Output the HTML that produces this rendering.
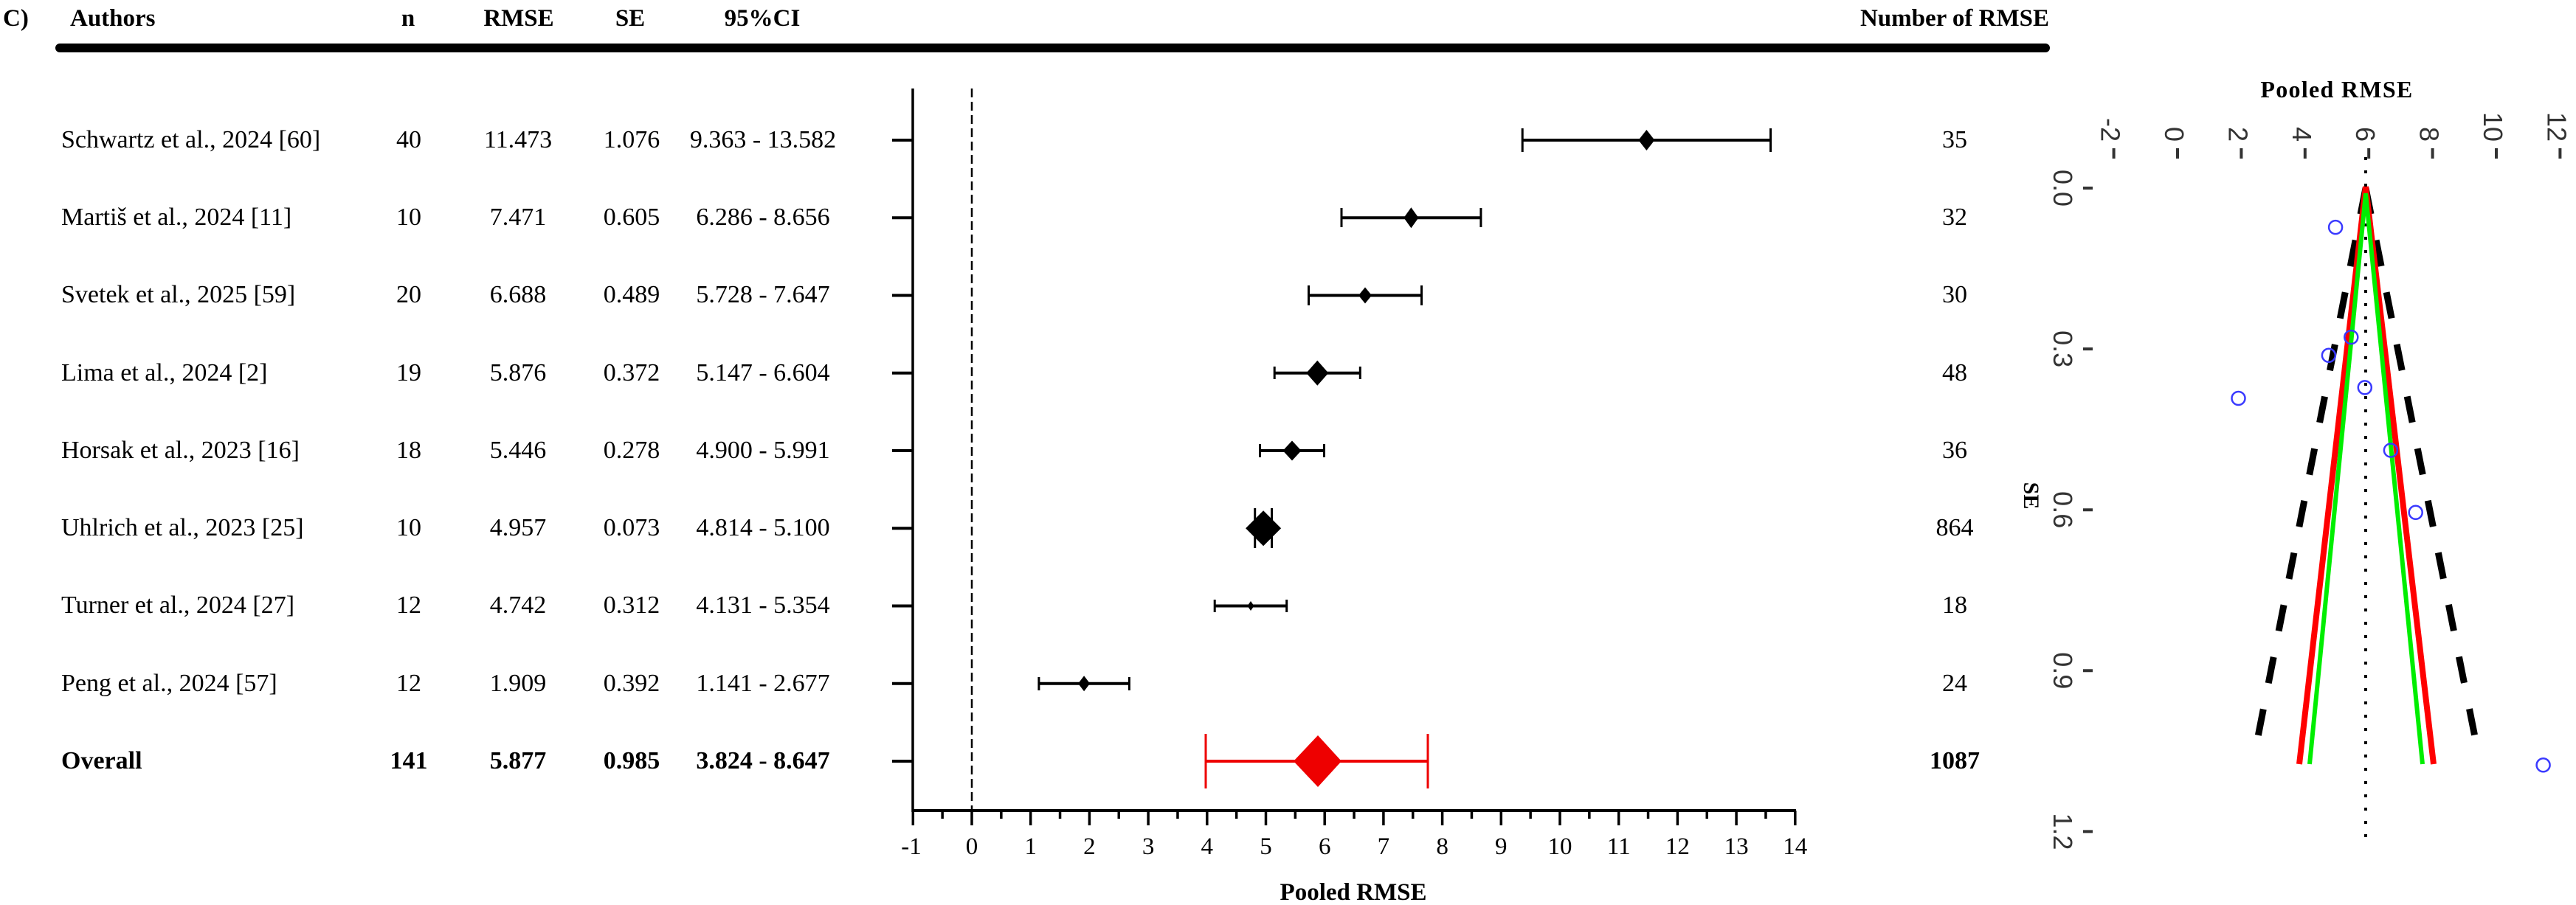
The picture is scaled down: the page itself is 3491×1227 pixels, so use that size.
<!DOCTYPE html>
<html><head><meta charset="utf-8"><style>
html,body{margin:0;padding:0;background:#fff;}
svg{display:block;}
.h{font-family:"Liberation Serif",serif;font-weight:bold;font-size:33px;fill:#000;}
.t{font-family:"Liberation Serif",serif;font-size:34px;fill:#000;}
.b{font-family:"Liberation Serif",serif;font-size:34px;font-weight:bold;fill:#000;}
.fl{font-family:"Liberation Sans",sans-serif;font-size:36px;fill:#333;}
</style></head><body>
<svg width="3491" height="1227" viewBox="0 0 3491 1227" xmlns="http://www.w3.org/2000/svg">
<rect width="3491" height="1227" fill="#fff"/>
<!-- Header -->
<text class="h" x="4" y="35">C)</text>
<text class="h" x="95" y="35">Authors</text>
<text class="h" x="553" y="35" text-anchor="middle">n</text>
<text class="h" x="703" y="35" text-anchor="middle">RMSE</text>
<text class="h" x="854" y="35" text-anchor="middle">SE</text>
<text class="h" x="1033" y="35" text-anchor="middle">95%CI</text>
<text class="h" x="2777" y="35" text-anchor="end">Number of RMSE</text>
<line x1="81" y1="65" x2="2772" y2="65" stroke="#000" stroke-width="12" stroke-linecap="round"/>

<!-- Table rows -->
<g class="t">
<text x="83" y="200">Schwartz et al., 2024 [60]</text>
<text x="554" y="200" text-anchor="middle">40</text>
<text x="702" y="200" text-anchor="middle">11.473</text>
<text x="856" y="200" text-anchor="middle">1.076</text>
<text x="1034" y="200" text-anchor="middle">9.363 - 13.582</text>
<text x="2649" y="200" text-anchor="middle">35</text>

<text x="83" y="305">Martiš et al., 2024 [11]</text>
<text x="554" y="305" text-anchor="middle">10</text>
<text x="702" y="305" text-anchor="middle">7.471</text>
<text x="856" y="305" text-anchor="middle">0.605</text>
<text x="1034" y="305" text-anchor="middle">6.286 - 8.656</text>
<text x="2649" y="305" text-anchor="middle">32</text>

<text x="83" y="410">Svetek et al., 2025 [59]</text>
<text x="554" y="410" text-anchor="middle">20</text>
<text x="702" y="410" text-anchor="middle">6.688</text>
<text x="856" y="410" text-anchor="middle">0.489</text>
<text x="1034" y="410" text-anchor="middle">5.728 - 7.647</text>
<text x="2649" y="410" text-anchor="middle">30</text>

<text x="83" y="516">Lima et al., 2024 [2]</text>
<text x="554" y="516" text-anchor="middle">19</text>
<text x="702" y="516" text-anchor="middle">5.876</text>
<text x="856" y="516" text-anchor="middle">0.372</text>
<text x="1034" y="516" text-anchor="middle">5.147 - 6.604</text>
<text x="2649" y="516" text-anchor="middle">48</text>

<text x="83" y="621">Horsak et al., 2023 [16]</text>
<text x="554" y="621" text-anchor="middle">18</text>
<text x="702" y="621" text-anchor="middle">5.446</text>
<text x="856" y="621" text-anchor="middle">0.278</text>
<text x="1034" y="621" text-anchor="middle">4.900 - 5.991</text>
<text x="2649" y="621" text-anchor="middle">36</text>

<text x="83" y="726">Uhlrich et al., 2023 [25]</text>
<text x="554" y="726" text-anchor="middle">10</text>
<text x="702" y="726" text-anchor="middle">4.957</text>
<text x="856" y="726" text-anchor="middle">0.073</text>
<text x="1034" y="726" text-anchor="middle">4.814 - 5.100</text>
<text x="2649" y="726" text-anchor="middle">864</text>

<text x="83" y="831">Turner et al., 2024 [27]</text>
<text x="554" y="831" text-anchor="middle">12</text>
<text x="702" y="831" text-anchor="middle">4.742</text>
<text x="856" y="831" text-anchor="middle">0.312</text>
<text x="1034" y="831" text-anchor="middle">4.131 - 5.354</text>
<text x="2649" y="831" text-anchor="middle">18</text>

<text x="83" y="937">Peng et al., 2024 [57]</text>
<text x="554" y="937" text-anchor="middle">12</text>
<text x="702" y="937" text-anchor="middle">1.909</text>
<text x="856" y="937" text-anchor="middle">0.392</text>
<text x="1034" y="937" text-anchor="middle">1.141 - 2.677</text>
<text x="2649" y="937" text-anchor="middle">24</text>
</g>
<g class="b">
<text x="83" y="1042">Overall</text>
<text x="554" y="1042" text-anchor="middle">141</text>
<text x="702" y="1042" text-anchor="middle">5.877</text>
<text x="856" y="1042" text-anchor="middle">0.985</text>
<text x="1034" y="1042" text-anchor="middle">3.824 - 8.647</text>
<text x="2649" y="1042" text-anchor="middle">1087</text>
</g>

<!-- Forest axes -->
<line x1="1237" y1="120" x2="1237" y2="1101" stroke="#000" stroke-width="3.5"/>
<line x1="1317" y1="120" x2="1317" y2="1099" stroke="#000" stroke-width="2.5" stroke-dasharray="12 6"/>
<path d="M1209 190H1237M1209 295.25H1237M1209 400.5H1237M1209 505.75H1237M1209 611H1237M1209 716.25H1237M1209 821.5H1237M1209 926.75H1237M1209 1032H1237" stroke="#000" stroke-width="4"/>
<line x1="1235.5" y1="1099" x2="2434" y2="1099" stroke="#000" stroke-width="4"/>
<path d="M1237.3 1099V1119M1317 1099V1119M1396.7 1099V1119M1476.4 1099V1119M1556.1 1099V1119M1635.8 1099V1119M1715.5 1099V1119M1795.2 1099V1119M1874.9 1099V1119M1954.6 1099V1119M2034.3 1099V1119M2114 1099V1119M2193.7 1099V1119M2273.4 1099V1119M2353.1 1099V1119M2432.8 1099V1119" stroke="#000" stroke-width="3.5"/>
<path d="M1277.15 1099V1110M1356.85 1099V1110M1436.55 1099V1110M1516.25 1099V1110M1595.95 1099V1110M1675.65 1099V1110M1755.35 1099V1110M1835.05 1099V1110M1914.75 1099V1110M1994.45 1099V1110M2074.15 1099V1110M2153.85 1099V1110M2233.55 1099V1110M2313.25 1099V1110M2392.95 1099V1110" stroke="#000" stroke-width="3.5"/>
<g class="t" text-anchor="middle" style="font-size:33px">
<text x="1235" y="1158">-1</text>
<text x="1317" y="1158">0</text>
<text x="1396.7" y="1158">1</text>
<text x="1476.4" y="1158">2</text>
<text x="1556.1" y="1158">3</text>
<text x="1635.8" y="1158">4</text>
<text x="1715.5" y="1158">5</text>
<text x="1795.2" y="1158">6</text>
<text x="1874.9" y="1158">7</text>
<text x="1954.6" y="1158">8</text>
<text x="2034.3" y="1158">9</text>
<text x="2114" y="1158">10</text>
<text x="2193.7" y="1158">11</text>
<text x="2273.4" y="1158">12</text>
<text x="2353.1" y="1158">13</text>
<text x="2432.8" y="1158">14</text>
</g>
<text class="h" x="1834" y="1220" text-anchor="middle">Pooled RMSE</text>

<!-- Study CIs -->
<g stroke="#000" fill="none">
<path d="M2063.2 190H2399.5" stroke-width="4"/><path d="M2063.2 174V206M2399.5 174V206" stroke-width="3"/>
<path d="M1818 295.25H2006.9" stroke-width="4"/><path d="M1818 282V308M2006.9 282V308" stroke-width="3"/>
<path d="M1773.5 400.5H1926.5" stroke-width="4"/><path d="M1773.5 387V414M1926.5 387V414" stroke-width="3"/>
<path d="M1727.2 505.75H1843.3" stroke-width="4"/><path d="M1727.2 497V514M1843.3 497V514" stroke-width="3"/>
<path d="M1707.5 611H1794.5" stroke-width="4"/><path d="M1707.5 602V620M1794.5 602V620" stroke-width="3"/>
<path d="M1700.7 716.25H1723.5" stroke-width="4"/><path d="M1700.7 689V743M1723.5 689V743" stroke-width="3"/>
<path d="M1646.2 821.5H1743.7" stroke-width="4"/><path d="M1646.2 813V830M1743.7 813V830" stroke-width="3"/>
<path d="M1407.9 926.75H1530.4" stroke-width="4"/><path d="M1407.9 918V936M1530.4 918V936" stroke-width="3"/>
</g>
<g fill="#000">
<polygon points="2231.4,176 2242.4,190 2231.4,204 2220.4,190"/>
<polygon points="1912.4,281.25 1922.4,295.25 1912.4,309.25 1902.4,295.25"/>
<polygon points="1850,389.5 1859,400.5 1850,411.5 1841,400.5"/>
<polygon points="1785.3,488.75 1800.3,505.75 1785.3,522.75 1770.3,505.75"/>
<polygon points="1751,597.5 1763.5,611 1751,624.5 1738.5,611"/>
<polygon points="1712.1,692.25 1736.1,716.25 1712.1,740.25 1688.1,716.25"/>
<polygon points="1695,815 1699.5,821.5 1695,828 1690.5,821.5"/>
<polygon points="1469.1,916.25 1477.1,926.75 1469.1,937.25 1461.1,926.75"/>
</g>
<!-- Overall red -->
<g stroke="#ee0000" fill="none">
<path d="M1634 1032H1935" stroke-width="4"/>
<path d="M1634 995V1069M1935 995V1069" stroke-width="3"/>
</g>
<polygon points="1786,997 1818,1032 1786,1067 1753,1032" fill="#ee0000"/>

<!-- Funnel plot -->
<text class="h" x="3167" y="132" text-anchor="middle" style="font-size:32px;letter-spacing:1.3px">Pooled RMSE</text>
<g class="fl" text-anchor="end">
<text transform="translate(2847.6,192) rotate(90)">-2</text>
<text transform="translate(2934,192) rotate(90)">0</text>
<text transform="translate(3020.4,192) rotate(90)">2</text>
<text transform="translate(3106.8,192) rotate(90)">4</text>
<text transform="translate(3193.2,192) rotate(90)">6</text>
<text transform="translate(3279.6,192) rotate(90)">8</text>
<text transform="translate(3366,192) rotate(90)">10</text>
<text transform="translate(3452.4,192) rotate(90)">12</text>
</g>
<path d="M2864.6 201V215M2951 201V215M3037.4 201V215M3123.8 201V215M3210.2 201V215M3296.6 201V215M3383 201V215M3469.4 201V215" stroke="#333" stroke-width="4"/>
<g class="fl" text-anchor="middle">
<text transform="translate(2783,255) rotate(90)">0.0</text>
<text transform="translate(2783,473.1) rotate(90)">0.3</text>
<text transform="translate(2783,691.2) rotate(90)">0.6</text>
<text transform="translate(2783,909.3) rotate(90)">0.9</text>
<text transform="translate(2783,1127.4) rotate(90)">1.2</text>
</g>
<path d="M2823 255H2836M2823 473.1H2836M2823 691.2H2836M2823 909.3H2836M2823 1127.4H2836" stroke="#333" stroke-width="4"/>
<text class="h" transform="translate(2743,672) rotate(90)" text-anchor="middle" style="font-size:30px">SE</text>

<line x1="3206" y1="213" x2="3206" y2="1135" stroke="#000" stroke-width="4" stroke-dasharray="4 14"/>
<g stroke="#000" stroke-width="9" stroke-dasharray="36 36" fill="none">
<line x1="3206" y1="255" x2="3057" y2="1014"/>
<line x1="3206" y1="255" x2="3357" y2="1014"/>
</g>
<g stroke="#ff0000" stroke-width="8" fill="none">
<line x1="3206" y1="253" x2="3116" y2="1036"/>
<line x1="3206" y1="253" x2="3298" y2="1036"/>
</g>
<g stroke="#00ee00" stroke-width="6" fill="none">
<line x1="3206" y1="262" x2="3130" y2="1036"/>
<line x1="3206" y1="262" x2="3283" y2="1036"/>
</g>
<g stroke="#3a3aff" stroke-width="2.5" fill="none">
<circle cx="3446.6" cy="1037.3" r="9"/>
<circle cx="3273.7" cy="694.8" r="9"/>
<circle cx="3239.9" cy="610.5" r="9"/>
<circle cx="3204.8" cy="525.4" r="9"/>
<circle cx="3186.3" cy="457.1" r="9"/>
<circle cx="3165.1" cy="308.1" r="9"/>
<circle cx="3155.9" cy="481.8" r="9"/>
<circle cx="3033.5" cy="540" r="9"/>
</g>
</svg>
</body></html>
